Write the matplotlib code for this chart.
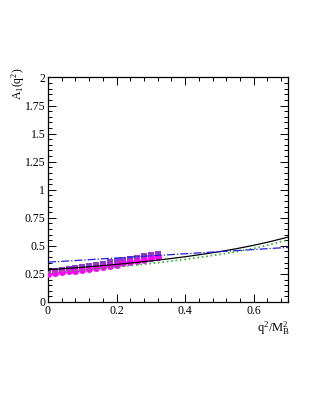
import numpy as np
import matplotlib
matplotlib.use('agg')
import matplotlib.pyplot as plt
from matplotlib.ticker import MultipleLocator

plt.rcParams['font.family'] = ['Liberation Serif', 'DejaVu Serif']
plt.rcParams['mathtext.fontset'] = 'custom'
plt.rcParams['mathtext.rm'] = 'Liberation Serif'
plt.rcParams['mathtext.it'] = 'Liberation Serif'

# curves
x_curve = [0.0, 0.05, 0.1, 0.15, 0.2, 0.25, 0.3, 0.35, 0.4, 0.45, 0.5, 0.55, 0.6, 0.65, 0.7]
y_black = [0.287, 0.298, 0.309, 0.322, 0.335, 0.350, 0.366, 0.384, 0.403, 0.425, 0.448, 0.475, 0.505, 0.539, 0.578]
y_green = [0.262, 0.273, 0.285, 0.298, 0.312, 0.327, 0.343, 0.361, 0.380, 0.401, 0.423, 0.449, 0.478, 0.513, 0.553]
y_blue = [0.355, 0.364, 0.373, 0.383, 0.392, 0.402, 0.411, 0.420, 0.430, 0.439, 0.449, 0.458, 0.467, 0.477, 0.486]

# data points
x_pts = [0.0, 0.02, 0.04, 0.06, 0.08, 0.10, 0.12, 0.14, 0.16, 0.18, 0.20, 0.22, 0.24, 0.26, 0.28, 0.30, 0.32]
y_squares = [0.268, 0.277, 0.285, 0.294, 0.303, 0.312, 0.322, 0.332, 0.342, 0.352, 0.362, 0.373, 0.384, 0.395, 0.407, 0.419, 0.431]
y_circles = [0.252, 0.258, 0.265, 0.272, 0.280, 0.288, 0.296, 0.305, 0.314, 0.324, 0.334, 0.344, 0.355, 0.366, 0.377, 0.389, 0.401]

fig = plt.figure(figsize=(3.21, 4.15), dpi=100)
ax = fig.add_axes([0.1495, 0.2723, 0.7475, 0.541])

ax.plot(x_pts, y_squares, 's', color='#8a3cc8', markersize=3.8, markeredgewidth=0, zorder=2)
ax.plot(x_pts, y_circles, 'o', color='#ff00ff', markersize=5.0, markeredgewidth=0, zorder=3)
ax.plot(x_curve, y_black, '-', color='black', lw=0.9, zorder=4)
ax.plot(x_curve, y_green, ':', color='#30b030', lw=1.2, zorder=4)
ax.plot(x_curve, y_blue, '-.', color='#1f1fe0', lw=0.9, zorder=4)

ax.set_xlim(0, 0.7)
ax.set_ylim(0, 2)
ax.xaxis.set_minor_locator(MultipleLocator(0.04))
ax.yaxis.set_minor_locator(MultipleLocator(0.05))
ax.set_yticks([0, 0.25, 0.5, 0.75, 1, 1.25, 1.5, 1.75, 2])
ax.set_yticklabels(['0', '0.25', '0.5', '0.75', '1', '1.25', '1.5', '1.75', '2'])
ax.set_xticks([0, 0.2, 0.4, 0.6])
ax.set_xticklabels(['0', '0.2', '0.4', '0.6'])
ax.tick_params(which='both', direction='in', top=True, right=True, labelsize=8.5, pad=2)
ax.tick_params(which='major', length=6, width=0.7)
ax.tick_params(which='minor', length=3, width=0.7)
for s in ax.spines.values():
    s.set_linewidth(0.9)

fig.text(0.057, 0.838, r'A$_1$(q$^2$)', rotation=90, fontsize=8.5, ha='center', va='top')
fig.text(0.905, 0.21, r'q$^2$/M$_\mathrm{B}^2$', fontsize=9, ha='right', va='center')

fig.savefig('out.png', dpi=100)
